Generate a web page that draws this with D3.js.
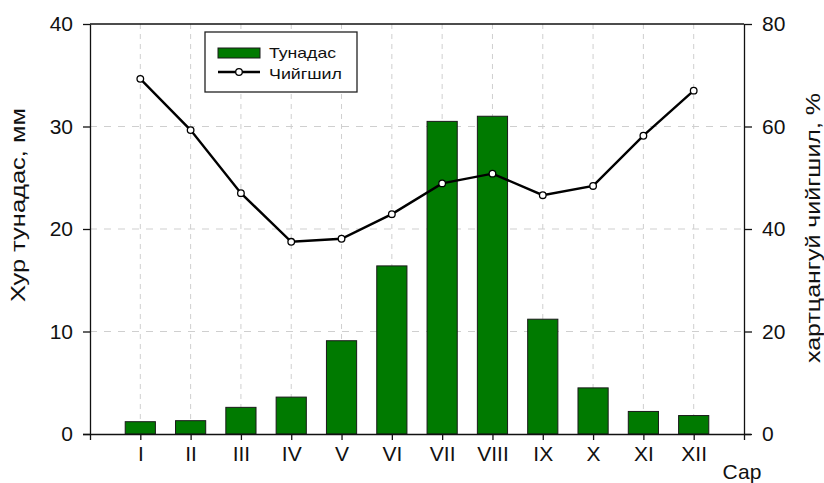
<!DOCTYPE html>
<html><head><meta charset="utf-8">
<script src="https://cdn.jsdelivr.net/npm/d3@7"></script>
<style>body{margin:0;background:#fff}svg{display:block}text{font-family:"Liberation Sans",Arial,sans-serif;fill:#111}</style>
</head><body><svg id="c" width="824" height="483"></svg>
<script>
const months = ["I","II","III","IV","V","VI","VII","VIII","IX","X","XI","XII"];
const precip = [1.2, 1.3, 2.6, 3.6, 9.1, 16.4, 30.5, 31.0, 11.2, 4.5, 2.2, 1.8];
const humidity = [69.3, 59.3, 47.0, 37.5, 38.1, 42.9, 48.9, 50.8, 46.6, 48.4, 58.2, 67.0];
const leftTicks = [0, 10, 20, 30, 40];
const rightTicks = [0, 20, 40, 60, 80];

const svg = d3.select("#c");
const L = 90, R = 744, T = 24, B = 434;
const x = d3.scaleLinear().domain([0, 13]).range([L, R]);
const xm = (d, i) => x(i + 1);
const yL = d3.scaleLinear().domain([0, 40]).range([B, T]);
const yR = d3.scaleLinear().domain([0, 80]).range([B, T]);
const step = x(1) - x(0);
const bw = step * 0.6;

// grid
const g = svg.append("g");
g.selectAll("line.v").data(months).join("line")
  .attr("x1", xm).attr("x2", xm).attr("y1", T).attr("y2", B)
  .attr("stroke", "#cfcfcf").attr("stroke-width", 1).attr("stroke-dasharray", "5,5");
g.selectAll("line.h").data([10, 20, 30]).join("line")
  .attr("x1", L).attr("x2", R).attr("y1", d => yL(d)).attr("y2", d => yL(d))
  .attr("stroke", "#cfcfcf").attr("stroke-width", 1).attr("stroke-dasharray", "7,7");

// bars
svg.append("g").selectAll("rect").data(precip).join("rect")
  .attr("x", (d, i) => x(i + 1) - bw / 2).attr("width", bw)
  .attr("y", d => yL(d)).attr("height", d => B - yL(d))
  .attr("fill", "#007a00").attr("stroke", "#1a1a1a").attr("stroke-width", 1);

// line
const line = d3.line().x((d, i) => x(i + 1)).y(d => yR(d));
svg.append("path").datum(humidity).attr("d", line)
  .attr("fill", "none").attr("stroke", "#000").attr("stroke-width", 2.4);
svg.append("g").selectAll("circle").data(humidity).join("circle")
  .attr("cx", (d, i) => x(i + 1)).attr("cy", d => yR(d)).attr("r", 3.3)
  .attr("fill", "#fff").attr("stroke", "#000").attr("stroke-width", 1.3);

// axes
const axL = svg.append("g").attr("transform", `translate(${L},0)`)
  .call(d3.axisLeft(yL).tickValues(leftTicks).tickSize(7).tickPadding(10).tickSizeOuter(0));
const axR = svg.append("g").attr("transform", `translate(${R},0)`)
  .call(d3.axisRight(yR).tickValues(rightTicks).tickSize(8).tickPadding(10).tickSizeOuter(0));
const xb = d3.scaleLinear().domain([0, 13]).range([L, R]);
const axB = svg.append("g").attr("transform", `translate(0,${B})`)
  .call(d3.axisBottom(xb).tickValues(d3.range(0, 14)).tickSize(6).tickPadding(6).tickSizeOuter(0)
    .tickFormat(d => (d >= 1 && d <= 12) ? months[d - 1] : ""));
[axL, axR, axB].forEach(a => {
  a.selectAll("path").attr("stroke", "#111").attr("stroke-width", 1.3);
  a.selectAll("line").attr("stroke", "#111").attr("stroke-width", 1.3);
  a.selectAll("text").style("font-size", "21px").attr("fill", "#111");
});
axB.select("path.domain").attr("d", `M${L - 7},0.5H${R + 7}`);
// top frame line
svg.append("line").attr("x1", L).attr("x2", R).attr("y1", T).attr("y2", T)
  .attr("stroke", "#111").attr("stroke-width", 1.3);

// titles
svg.append("text").attr("transform", "translate(25,205) rotate(-90)")
  .attr("text-anchor", "middle").style("font-size", "21px")
  .attr("textLength", 194).attr("lengthAdjust", "spacingAndGlyphs")
  .text("Хур тунадас, мм");
svg.append("text").attr("transform", "translate(820,228) rotate(-90)")
  .attr("text-anchor", "middle").style("font-size", "21px")
  .attr("textLength", 270).attr("lengthAdjust", "spacingAndGlyphs")
  .text("хартцангуй чийгшил, %");
svg.append("text").attr("x", 742).attr("y", 479).attr("text-anchor", "middle")
  .style("font-size", "21px").text("Сар");

// legend
const lg = svg.append("g");
lg.append("rect").attr("x", 205).attr("y", 32).attr("width", 152).attr("height", 60)
  .attr("fill", "#fff").attr("stroke", "#222").attr("stroke-width", 1.3);
lg.append("rect").attr("x", 218).attr("y", 48).attr("width", 42).attr("height", 10)
  .attr("fill", "#007a00").attr("stroke", "#1a1a1a").attr("stroke-width", 1);
lg.append("line").attr("x1", 218).attr("x2", 260).attr("y1", 72).attr("y2", 72)
  .attr("stroke", "#000").attr("stroke-width", 2.4);
lg.append("circle").attr("cx", 239).attr("cy", 72).attr("r", 3.3)
  .attr("fill", "#fff").attr("stroke", "#000").attr("stroke-width", 1.3);
lg.append("text").attr("x", 269).attr("y", 58).style("font-size", "15px")
  .attr("textLength", 67).attr("lengthAdjust", "spacingAndGlyphs").text("Тунадас");
lg.append("text").attr("x", 269).attr("y", 79).style("font-size", "15px")
  .attr("textLength", 73).attr("lengthAdjust", "spacingAndGlyphs").text("Чийгшил");
</script></body></html>
